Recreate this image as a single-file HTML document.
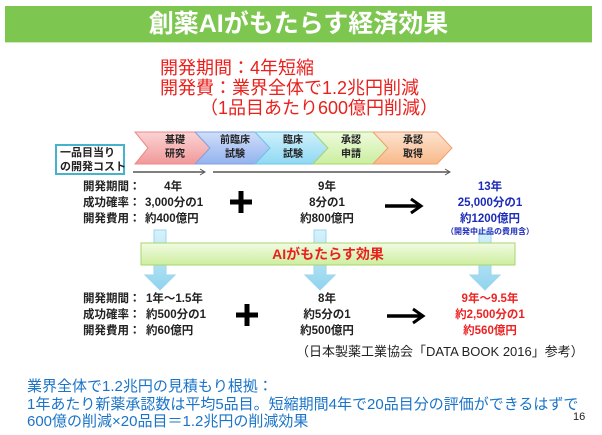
<!DOCTYPE html>
<html><head><meta charset="utf-8"><style>
body{margin:0;width:602px;height:435px;background:#fff;position:relative;overflow:hidden;font-family:"Liberation Sans","Noto Sans CJK JP",sans-serif}
.a{position:absolute;white-space:nowrap}
.b{font-weight:bold;font-size:11.5px;line-height:16px;color:#222}
.c{text-align:center}
</style></head><body>
<div class="a" style="left:5px;top:6px;width:587px;height:36px;background:#7dc64f;border-bottom:1px solid #cfe9bc"></div>
<div class="a c" style="left:5px;top:6px;width:587px;line-height:36px;font-size:25px;font-weight:bold;color:#fff">創薬AIがもたらす経済効果</div>

<div class="a" style="left:160px;top:58px;font-size:18px;line-height:20px;color:#e8211d">開発期間：4年短縮</div>
<div class="a" style="left:160px;top:78px;font-size:18px;line-height:20px;color:#e8211d">開発費：業界全体で1.2兆円削減</div>
<div class="a" style="left:200px;top:98px;font-size:18px;line-height:20px;color:#e8211d">（1品目あたり600億円削減）</div>

<svg class="a" style="left:0;top:0" width="602" height="435">
<defs>
<linearGradient id="g1" x1="0" y1="0" x2="0" y2="1"><stop offset="0" stop-color="#fbd3d3"/><stop offset="1" stop-color="#f1999a"/></linearGradient>
<linearGradient id="g2" x1="0" y1="0" x2="0" y2="1"><stop offset="0" stop-color="#d0defa"/><stop offset="1" stop-color="#93b3ef"/></linearGradient>
<linearGradient id="g3" x1="0" y1="0" x2="0" y2="1"><stop offset="0" stop-color="#cff0fb"/><stop offset="1" stop-color="#8fd9f3"/></linearGradient>
<linearGradient id="g4" x1="0" y1="0" x2="0" y2="1"><stop offset="0" stop-color="#eefadc"/><stop offset="1" stop-color="#cbeea0"/></linearGradient>
<linearGradient id="g5" x1="0" y1="0" x2="0" y2="1"><stop offset="0" stop-color="#fde3cf"/><stop offset="1" stop-color="#f8b98a"/></linearGradient>
<linearGradient id="gb" x1="0" y1="0" x2="0" y2="1"><stop offset="0" stop-color="#f2fbe4"/><stop offset="1" stop-color="#cdee9e"/></linearGradient>
<linearGradient id="ga" x1="0" y1="0" x2="0" y2="1"><stop offset="0" stop-color="#d8f2fb"/><stop offset="1" stop-color="#8fd3ee"/></linearGradient>
</defs>
<polygon points="135,132 195,132 210,148 195,164 135,164 148,148" fill="url(#g1)" stroke="#e88" stroke-width="1"/>
<polygon points="195,132 255,132 270,148 255,164 195,164 210,148" fill="url(#g2)" stroke="#7fa2e0" stroke-width="1"/>
<polygon points="255,132 313,132 328,148 313,164 255,164 270,148" fill="url(#g3)" stroke="#6cc7e8" stroke-width="1"/>
<polygon points="313,132 373,132 388,148 373,164 313,164 328,148" fill="url(#g4)" stroke="#a8d66f" stroke-width="1"/>
<polygon points="373,132 437,132 452,148 437,164 373,164 388,148" fill="url(#g5)" stroke="#f0a070" stroke-width="1"/>
<rect x="56" y="145" width="68" height="29" fill="#fff" stroke="#45b3cc" stroke-width="2"/>
<line x1="133" y1="172" x2="204" y2="172" stroke="#555" stroke-width="1.5"/><polyline points="200,169 205,172 200,175" fill="none" stroke="#555"/>
<line x1="213" y1="172" x2="449" y2="172" stroke="#555" stroke-width="1.5"/><polyline points="445,169 450,172 445,175" fill="none" stroke="#555"/>
<g fill="url(#ga)" stroke="#9dd6ec">
<polygon points="154,230 166,230 166,275 175,275 160,290 145,275 154,275"/>
<polygon points="314,230 326,230 326,275 335,275 320,290 305,275 314,275"/>
<polygon points="479,230 491,230 491,275 500,275 485,290 470,275 479,275"/>
</g>
<rect x="141" y="243" width="374" height="22" fill="url(#gb)" stroke="#a8d66f"/>
<g stroke="#000" stroke-width="3.5" fill="none">
<line x1="385" y1="206" x2="420" y2="206"/><polyline points="411,199 421,206 411,213" stroke-width="3"/>
<line x1="387" y1="316" x2="422" y2="316"/><polyline points="413,309 423,316 413,323" stroke-width="3"/>
</g>
<g stroke="#000" stroke-width="5"><line x1="230" y1="202" x2="252" y2="202"/><line x1="241" y1="191" x2="241" y2="213"/>
<line x1="236" y1="315" x2="258" y2="315"/><line x1="247" y1="304" x2="247" y2="326"/></g>
</svg>

<div class="a b" style="left:60px;top:146px;font-size:11px;line-height:14px">一品目当り<br>の開発コスト</div>
<div class="a b c" style="left:150px;top:134px;width:50px;font-size:10px;line-height:14px">基礎<br>研究</div>
<div class="a b c" style="left:210px;top:134px;width:50px;font-size:10px;line-height:14px">前臨床<br>試験</div>
<div class="a b c" style="left:268px;top:134px;width:50px;font-size:10px;line-height:14px">臨床<br>試験</div>
<div class="a b c" style="left:326px;top:134px;width:50px;font-size:10px;line-height:14px">承認<br>申請</div>
<div class="a b c" style="left:388px;top:134px;width:50px;font-size:10px;line-height:14px">承認<br>取得</div>

<div class="a b" style="left:83px;top:179px">開発期間：<br>成功確率：<br>開発費用：</div>
<div class="a b" style="left:145px;top:179px">&nbsp;&nbsp;&nbsp;&nbsp;&nbsp;&nbsp;4年<br>3,000分の1<br>約400億円</div>
<div class="a b c" style="left:287px;top:179px;width:80px">9年<br>8分の1<br>約800億円</div>
<div class="a b c" style="left:440px;top:179px;width:100px;color:#1c2bb8">13年<br>25,000分の1<br>約1200億円</div>
<div class="a b c" style="left:440px;top:227px;width:100px;color:#1c2bb8;font-size:8px;line-height:10px">（開発中止品の費用含）</div>

<div class="a c" style="left:141px;top:243px;width:374px;line-height:22px;font-size:14px;font-weight:bold;color:#e8211d">AIがもたらす効果</div>

<div class="a b" style="left:83px;top:291px">開発期間：<br>成功確率：<br>開発費用：</div>
<div class="a b" style="left:146px;top:291px">1年～1.5年<br>約500分の1<br>約60億円</div>
<div class="a b c" style="left:287px;top:291px;width:80px">8年<br>約5分の1<br>約500億円</div>
<div class="a b c" style="left:440px;top:291px;width:100px;color:#ee2222">9年～9.5年<br>約2,500分の1<br>約560億円</div>

<div class="a" style="left:296px;top:344px;font-size:13px;line-height:16px;color:#222">（日本製薬工業協会「DATA BOOK 2016」参考）</div>

<div class="a" style="left:27px;top:378px;font-size:15px;line-height:17.5px;color:#1b74c8">業界全体で1.2兆円の見積もり根拠：<br>1年あたり新薬承認数は平均5品目。短縮期間4年で20品目分の評価ができるはずで<br>600億の削減×20品目＝1.2兆円の削減効果</div>
<div class="a" style="left:573px;top:411px;font-size:11px;color:#222">16</div>
</body></html>
